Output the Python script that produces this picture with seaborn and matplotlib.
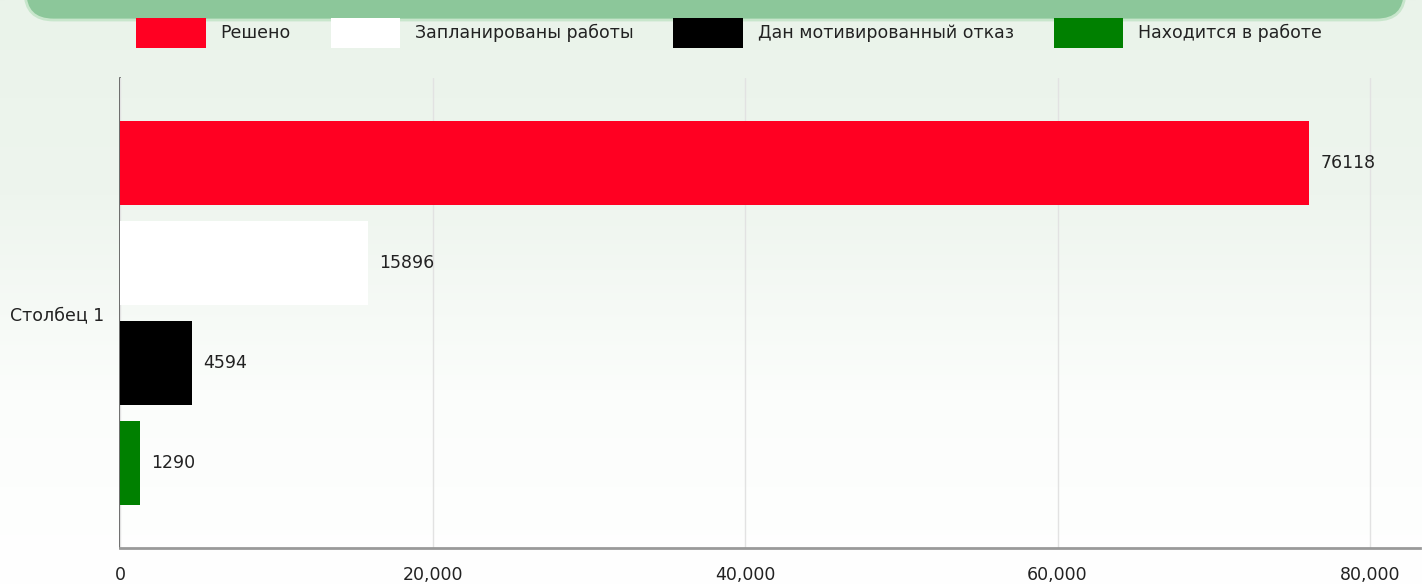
import matplotlib

matplotlib.use("Agg")
import matplotlib.pyplot as plt
import numpy as np
import pandas as pd
import seaborn as sns
from matplotlib.colors import LinearSegmentedColormap
from matplotlib.patches import FancyBboxPatch, Patch
from matplotlib.ticker import FuncFormatter

# --- data ---------------------------------------------------------------- #
category = ["Столбец 1"]
series = ["Решено", "Запланированы работы", "Дан мотивированный отказ", "Находится в работе"]
values = [76118, 15896, 4594, 1290]
colors = ["#ff0022", "#ffffff", "#000000", "#008000"]
x_ticks = [0, 20000, 40000, 60000, 80000]

df = pd.DataFrame({
    "category": category * len(series),
    "series": series,
    "value": values,
})

W, H = 1422, 585
FS = 12.5
sns.set_theme(style="white")
plt.rcParams["font.family"] = ["DejaVu Sans"]
fig = plt.figure(figsize=(W / 100, H / 100), dpi=100)

# --- background: soft green -> white gradient + banner ------------------- #
bg = fig.add_axes([0, 0, 1, 1], zorder=-10)
bg.set_axis_off()
grad = np.linspace(0, 1, 256).reshape(-1, 1)
cmap = LinearSegmentedColormap.from_list("bg", ["#ffffff", "#fbfdfb", "#eef5ee", "#eaf3ea"])
bg.imshow(grad, cmap=cmap, aspect="auto", extent=[0, 1, 0, 1], origin="lower")
bg.add_patch(FancyBboxPatch((25 / W, 1 - 20 / H), (1380) / W, 60 / H,
                            boxstyle="round,pad=0,rounding_size=0.02",
                            transform=bg.transAxes, facecolor="#8cc79a",
                            edgecolor="#c8e6cc", linewidth=2, mutation_aspect=W / H))
bg.set_xlim(0, 1)
bg.set_ylim(0, 1)

# --- bars ---------------------------------------------------------------- #
ax = fig.add_axes([120 / W, (H - 548) / H, 1300 / W, 470 / H])
ax.patch.set_alpha(0)
sns.barplot(data=df, y="category", x="value", hue="series", hue_order=series,
            palette=colors, orient="h", gap=0.16, saturation=1, linewidth=0,
            legend=False, ax=ax)

for cont in ax.containers:
    ax.bar_label(cont, labels=[f"{int(v)}" for v in cont.datavalues],
                 padding=8, fontsize=FS, color="#222222")

ax.set_xlim(0, 83200)
ax.set_ylim(0.47, -0.47)
ax.set_xticks(x_ticks)
ax.xaxis.set_major_formatter(FuncFormatter(lambda v, p: f"{int(v):,}"))
ax.grid(axis="x", color="#e2e2e2", linewidth=1)
ax.set_axisbelow(True)
ax.set_xlabel("")
ax.set_ylabel("")
ax.tick_params(axis="x", length=0, pad=13, labelsize=FS, labelcolor="#222222")
ax.tick_params(axis="y", length=0, pad=11, labelsize=FS, labelcolor="#222222")
for s in ["top", "right"]:
    ax.spines[s].set_visible(False)
ax.spines["left"].set_color("#555555")
ax.spines["left"].set_linewidth(1.2)
ax.spines["left"].set_zorder(0.5)
ax.spines["bottom"].set_color("#999999")
ax.spines["bottom"].set_linewidth(2)

# --- legend -------------------------------------------------------------- #
handles = [Patch(facecolor=c, edgecolor="none", label=s) for s, c in zip(series, colors)]
fig.legend(handles=handles, loc="center", bbox_to_anchor=(729 / W, 1 - 33 / H),
           ncol=4, frameon=False, fontsize=FS, handlelength=4.0, handleheight=2.3,
           handletextpad=0.85, columnspacing=2.3, labelcolor="#222222")

fig.savefig("out.png", dpi=100)
